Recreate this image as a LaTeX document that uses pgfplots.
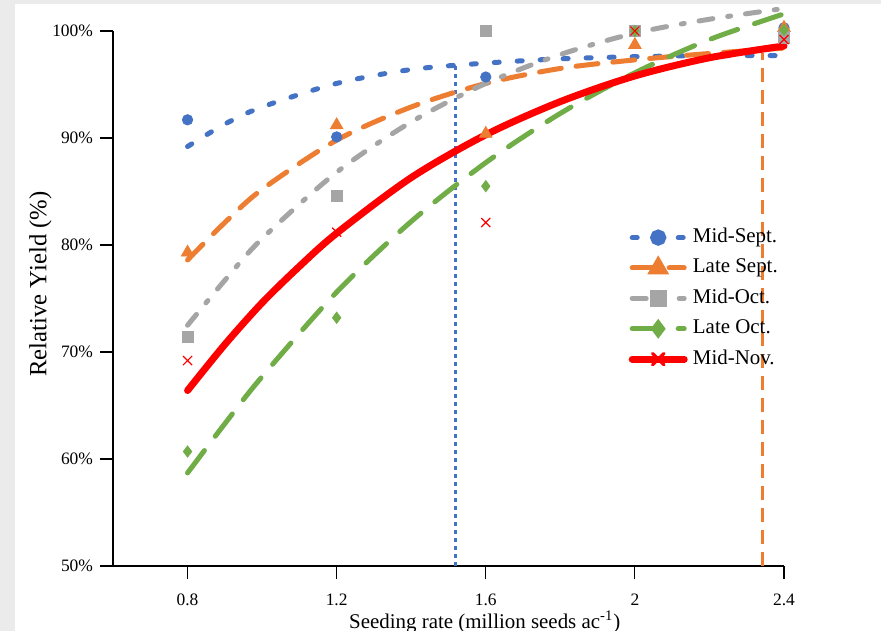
\documentclass[border=0pt]{standalone}
\usepackage{fontspec}
\setmainfont{Liberation Serif}
\usepackage{pgfplots}
\pgfplotsset{compat=1.18}
\definecolor{msept}{HTML}{4472C4}
\definecolor{lsept}{HTML}{ED7D31}
\definecolor{moct}{HTML}{A5A5A5}
\definecolor{loct}{HTML}{70AD47}
\definecolor{mnov}{HTML}{FF0000}

\pgfplotsset{
  msept line/.style={msept, line width=2.5bp, line cap=round, dash pattern=on 2.5bp off 9bp},
  lsept line/.style={lsept, line width=2.5bp, line cap=round, dash pattern=on 11bp off 7.5bp},
  moct line/.style={moct, line width=2.5bp, line cap=round, dash pattern=on 7bp off 7.5bp on 1.5bp off 7.5bp},
  loct line/.style={loct, line width=2.5bp, line cap=round, dash pattern=on 14bp off 9bp},
  mnov line/.style={mnov, line width=3.5bp, line cap=round},
}

\begin{document}
\begin{tikzpicture}
% screenshot frame around the white panel
\fill[gray!16] (-56.5bp,-32.5bp) rectangle (384bp,283bp);
\fill[white] (-49bp,-32.5bp) rectangle (384bp,281bp);
\begin{axis}[
  at={(0,0)}, anchor=south west,
  width=335.5bp, height=267.5bp, scale only axis,
  xmin=0.6, xmax=2.4, ymin=50, ymax=100,
  clip=false,
  axis x line=bottom, axis y line=left,
  axis line style={-, black, line width=0.6bp},
  tick style={black, line width=0.6bp},
  tick align=outside, major tick length=6.5bp,
  xtick={0.8,1.2,1.6,2,2.4}, xticklabels={0.8,1.2,1.6,2,2.4},
  ytick={50,60,70,80,90,100},
  yticklabel={\pgfmathprintnumber{\tick}\%},
  /pgf/number format/assume math mode=true,
  tick label style={font=\fontsize{8.75}{10}\selectfont},
  xticklabel style={inner sep=0.8bp, yshift=-6.4bp},
  xlabel={Seeding rate (million seeds ac\textsuperscript{-1})},
  xlabel style={at={(axis description cs:0.554,-0.1165)}, anchor=base,
    inner sep=0.5bp, font=\fontsize{10.5}{12}\selectfont},
  ylabel={Relative Yield (\%)},
  ylabel style={at={(axis description cs:-0.108,0.527)}, anchor=center,
    font=\fontsize{12.4}{14}\selectfont},
  legend image code/.code={\draw[mark repeat=2,mark phase=2]
    plot coordinates {(0bp,0bp) (13bp,0bp) (26bp,0bp)};},
  legend style={draw=none, fill=none, at={(axis description cs:0.768,0.643)},
    anchor=north west, inner sep=0pt, row sep=0pt,
    font=\fontsize{10.5}{12}\selectfont,
    nodes={inner sep=2.6bp, text height=7.5bp, text depth=2.5bp}},
  legend cell align=left,
  legend entries={Mid-Sept., Late Sept., Mid-Oct., Late Oct., Mid-Nov.},
]
\addlegendimage{msept line, mark=*, mark size=2.8bp, mark options={solid, fill=msept}}
\addlegendimage{lsept line, mark=triangle*, mark size=3.8bp, mark options={solid, fill=lsept}}
\addlegendimage{moct line, mark=square*, mark size=2.9bp, mark options={solid, fill=moct}}
\addlegendimage{loct line, mark=diamond*, mark size=2.9bp, mark options={solid, fill=loct}}
\addlegendimage{mnov line, mark=x, mark size=4bp, mark options={solid, line width=1.6bp}}

% optimum seeding rates
\addplot[msept, line width=1.4bp, dash pattern=on 1.8bp off 2.2bp, forget plot]
  coordinates {(1.518,50) (1.518,96.7)};
\addplot[lsept, line width=1.4bp, dash pattern=on 7bp off 4bp, forget plot]
  coordinates {(2.342,50) (2.342,97.9)};

% fitted curves
\addplot[msept line, smooth, forget plot] coordinates {
  (0.8,89.2) (0.9,91.3) (1.0,92.9) (1.2,95.1) (1.4,96.4) (1.6,97.0) (1.8,97.4) (2.0,97.6) (2.2,97.7) (2.4,97.7)};
\addplot[lsept line, smooth, forget plot] coordinates {
  (0.8,78.6) (0.9,82.1) (1.0,85.2) (1.2,89.8) (1.4,92.9) (1.6,95.1) (1.8,96.5) (2.0,97.3) (2.2,97.9) (2.4,98.4)};
\addplot[moct line, smooth, forget plot] coordinates {
  (0.8,72.5) (0.9,76.7) (1.0,80.6) (1.2,86.8) (1.4,91.5) (1.6,95.1) (1.8,97.8) (2.0,99.8) (2.2,101.1) (2.4,102.1)};
\addplot[loct line, smooth, forget plot] coordinates {
  (0.8,58.7) (0.9,63.3) (1.0,67.7) (1.2,75.6) (1.4,82.2) (1.6,87.7) (1.8,92.3) (2.0,96.1) (2.2,99.2) (2.4,101.6)};
\addplot[mnov line, smooth, forget plot] coordinates {
  (0.8,66.4) (0.9,70.7) (1.0,74.6) (1.1,78.0) (1.2,81.1) (1.4,86.3) (1.6,90.3) (1.8,93.4) (2.0,95.8) (2.2,97.5) (2.4,98.6)};

% observed means
\addplot[only marks, mark=*, mark size=2.6bp, draw=msept, fill=msept, forget plot] coordinates {
  (0.8,91.7) (1.2,90.1) (1.6,95.7) (2.0,100.0) (2.4,100.3)};
\addplot[only marks, mark=triangle*, mark size=3.6bp, draw=lsept, fill=lsept, forget plot] coordinates {
  (0.8,79.3) (1.2,91.2) (1.6,90.4) (2.0,98.7) (2.4,100.3)};
\addplot[only marks, mark=square*, mark size=2.8bp, draw=moct, fill=moct, forget plot] coordinates {
  (0.8,71.4) (1.2,84.6) (1.6,100.0) (2.0,100.0) (2.4,99.4)};
\addplot[only marks, mark=diamond*, mark size=2.8bp, draw=loct, fill=loct, forget plot] coordinates {
  (0.8,60.7) (1.2,73.2) (1.6,85.5) (2.0,100.0) (2.4,100.1)};
\addplot[only marks, mark=x, mark size=3.2bp, draw=mnov, line width=0.6bp, forget plot] coordinates {
  (0.8,69.2) (1.2,81.2) (1.6,82.1) (2.0,100.0) (2.4,99.2)};
\end{axis}
\pgfresetboundingbox
\path[use as bounding box] (-56.5bp,-32.5bp) rectangle (384bp,283bp);
\end{tikzpicture}
\end{document}
